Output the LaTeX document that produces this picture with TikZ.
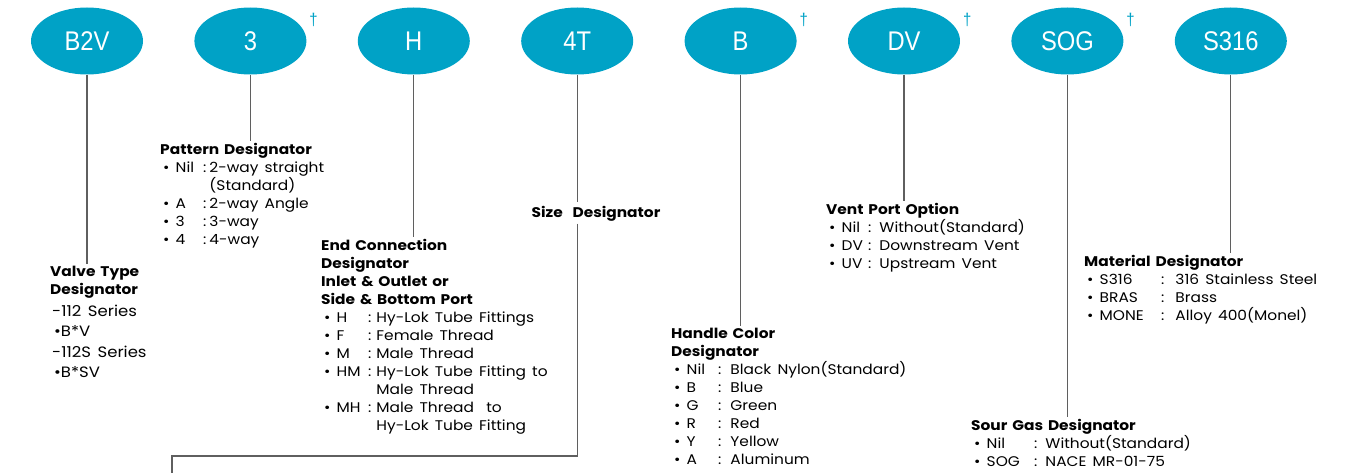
\documentclass[tikz,border=0pt]{standalone}
\usepackage{fontspec}
\setmainfont{Poppins}[FakeStretch=1.1,WordSpace=1.5]
\newfontfamily\tagfamily{Liberation Sans}[FakeStretch=0.88]
\usetikzlibrary{positioning,shapes.geometric}
\definecolor{hyblue}{HTML}{00A2C6}
\definecolor{leadgray}{HTML}{5F5F5F}
\newlength{\codew}\newlength{\gapw}
% column widths of one block: to the colon, after the colon
\newcommand{\cols}[2]{\global\codew=#1\relax\global\gapw=#2\relax}
% one option line: bullet and code, colon, meaning
\newcommand{\opt}[2]{\hspace*{3pt}\makebox[\codew][l]{\textbullet\ #1}:\hspace{\gapw}#2}
\newcommand{\more}[1]{\hspace*{3pt}\makebox[\codew][l]{}\phantom{:}\hspace{\gapw}#1}
\tikzset{tag/.style={ellipse,fill=hyblue,draw=none,inner sep=0pt,
    minimum width=112pt,minimum height=67pt,text=white,
    font=\tagfamily\fontsize{27}{27}\selectfont},
    dagger/.style={text=hyblue,inner sep=0pt,font=\tagfamily\fontsize{17}{17}\selectfont},
    desc/.style={anchor=north west,align=left,inner sep=0pt,
    font=\fontsize{14}{18}\selectfont},
    lead/.style={-,draw=leadgray,line width=1.3pt,shorten >=2pt}}

\begin{document}
\begin{tikzpicture}[x=1pt,y=1pt,node distance=51pt]
        \useasboundingbox (0,0) rectangle (1349,-473);
        % code tags
        \node[tag] (vtype) at (87,-41) {B2V};
        \node[tag,right=of vtype] (pat) {3};
        \node[tag,right=of pat] (endc) {H};
        \node[tag,right=of endc] (size) {4T};
        \node[tag,right=of size] (handle) {B};
        \node[tag,right=of handle] (vent) {DV};
        \node[tag,right=of vent] (sour) {SOG};
        \node[tag,right=of sour] (mat) {S316};
        \node[dagger] (d1) at ([shift={(7,21)}]pat.east) {†};
        \node[dagger] (d2) at ([shift={(7,21)}]handle.east) {†};
        \node[dagger] (d3) at ([shift={(7,21)}]vent.east) {†};
        \node[dagger] (d4) at ([shift={(7,21)}]sour.east) {†};
        % descriptions
        \node[desc] (vtypeL) at (50,-266) {\textbf{Valve Type}\\\textbf{Designator}\\[4pt]
            \fontsize{15}{20}\selectfont\hspace*{2pt}-112 Series\\[2pt]
            \fontsize{15}{20}\selectfont\hspace*{4pt}\textbullet B*V\\[3pt]
            \fontsize{15}{20}\selectfont\hspace*{2pt}-112S Series\\[2pt]
            \fontsize{15}{20}\selectfont\hspace*{4pt}\textbullet B*SV};
        \node[desc] (patL) at (160,-143) {\cols{40pt}{3pt}%
            \textbf{Pattern Designator}\\
            \opt{Nil}{2-way straight}\\
            \more{(Standard)}\\
            \opt{A}{2-way Angle}\\
            \opt{3}{3-way}\\
            \opt{4}{4-way}};
        \node[desc] (endcL) at (321,-239) {\cols{44pt}{5pt}%
            \textbf{End Connection}\\
            \textbf{Designator}\\
            \textbf{Inlet \& Outlet or}\\
            \textbf{Side \& Bottom Port}\\
            \opt{H}{Hy-Lok Tube Fittings}\\
            \opt{F}{Female Thread}\\
            \opt{M}{Male Thread}\\
            \opt{HM}{Hy-Lok Tube Fitting to}\\
            \more{Male Thread}\\
            \opt{MH}{Male Thread\ \ to}\\
            \more{Hy-Lok Tube Fitting}};
        \node[inner sep=2pt,font=\fontsize{14}{18}\selectfont\bfseries] (sizeL) at (596,-214) {Size\ \ Designator};
        \node[desc] (handleL) at (671,-328) {\cols{44pt}{9pt}%
            \textbf{Handle Color}\\
            \textbf{Designator}\\
            \opt{Nil}{Black Nylon(Standard)}\\
            \opt{B}{Blue}\\
            \opt{G}{Green}\\
            \opt{R}{Red}\\
            \opt{Y}{Yellow}\\
            \opt{A}{Aluminum}};
        \node[desc] (ventL) at (826,-203) {\cols{39pt}{8pt}%
            \textbf{Vent Port Option}\\
            \opt{Nil}{Without(Standard)}\\
            \opt{DV}{Downstream Vent}\\
            \opt{UV}{Upstream Vent}};
        \node[desc] (sourL) at (971,-419) {\cols{60pt}{8pt}%
            \textbf{Sour Gas Designator}\\
            \opt{Nil}{Without(Standard)}\\
            \opt{SOG}{NACE MR-01-75}};
        \node[desc] (matL) at (1084,-255) {\cols{74pt}{11pt}%
            \textbf{Material Designator}\\
            \opt{S316}{316 Stainless Steel}\\
            \opt{BRAS}{Brass}\\
            \opt{MONE}{Alloy 400(Monel)}};
        % leaders
        \coordinate (corner) at (172,-456);
        \coordinate (tail) at (172,-474);
        \draw[lead](vtype.south)--(vtype.south |- vtypeL.north);
        \draw[lead](pat.south)--(pat.south |- patL.north);
        \draw[lead](endc.south)--(endc.south |- endcL.north);
        \draw[lead](size.south)--(size.south |- sizeL.north);
        \draw[lead,shorten >=0pt](size.south |- sizeL.south)--(corner -| size.south)--(corner)--(tail);
        \draw[lead](handle.south)--(handle.south |- handleL.north);
        \draw[lead](vent.south)--(vent.south |- ventL.north);
        \draw[lead](sour.south)--(sour.south |- sourL.north);
        \draw[lead](mat.south)--(mat.south |- matL.north);
    \end{tikzpicture}
\end{document}
